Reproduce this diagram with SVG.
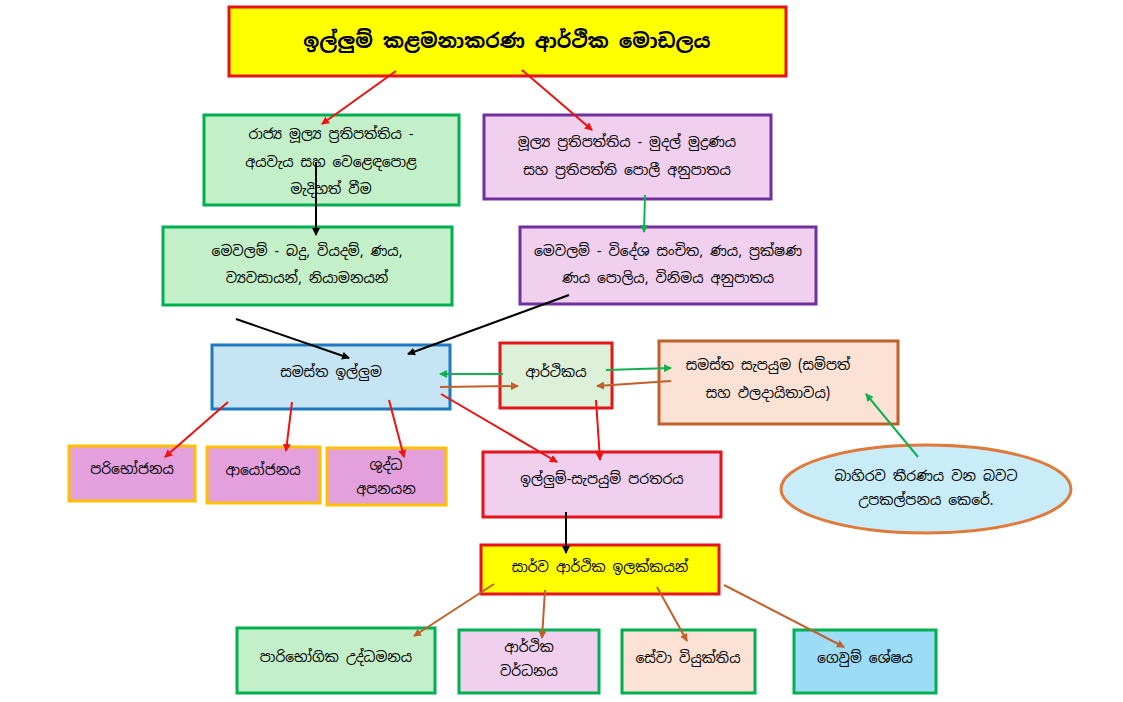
<svg xmlns="http://www.w3.org/2000/svg" width="1123" height="702" viewBox="0 0 1123 702">
<defs>
<style>
text{font-family:"Noto Sans Sinhala","Noto Sans","DejaVu Sans",sans-serif;font-size:14px;text-anchor:middle;fill:#000}
.t{font-size:20px;font-weight:bold}
.g{fill:#c3f0c8;stroke:#00b050;stroke-width:3}
.p{fill:#f0d0ee;stroke:#7030a0;stroke-width:3}
.y{fill:#ffff00;stroke:#e8121b;stroke-width:3}
.m{fill:#e4a0dc;stroke:#ffc000;stroke-width:3}
line{stroke-width:2}
.r{stroke:#ee1111;marker-end:url(#ar)}
.k{stroke:#000;marker-end:url(#ak)}
.gr{stroke:#12b050;marker-end:url(#ag)}
.b{stroke:#c0602a;marker-end:url(#ab)}
</style>
<marker id="ar" markerWidth="8" markerHeight="8" refX="7" refY="4" orient="auto" markerUnits="userSpaceOnUse"><path d="M0,0L8,4L0,8z" fill="#ee1111"/></marker>
<marker id="ak" markerWidth="8" markerHeight="8" refX="7" refY="4" orient="auto" markerUnits="userSpaceOnUse"><path d="M0,0L8,4L0,8z" fill="#000"/></marker>
<marker id="ag" markerWidth="8" markerHeight="8" refX="7" refY="4" orient="auto" markerUnits="userSpaceOnUse"><path d="M0,0L8,4L0,8z" fill="#12b050"/></marker>
<marker id="ab" markerWidth="8" markerHeight="8" refX="7" refY="4" orient="auto" markerUnits="userSpaceOnUse"><path d="M0,0L8,4L0,8z" fill="#c0602a"/></marker>
</defs>
<rect width="1123" height="702" fill="#fff"/>
<g id="title"><rect class="y" x="229" y="7" width="557" height="69"/><text class="t" x="507" y="48">ඉල්ලුම් කළමනාකරණ ආර්ථික මොඩලය</text></g>
<g id="fiscal"><rect class="g" x="204" y="115" width="255" height="90"/><text x="331" y="139">රාජ්‍ය මූල්‍ය ප්‍රතිපත්තිය -</text><text x="331" y="167">අයවැය සහ වෙළෙඳපොළ</text><text x="331" y="194">මැදිහත් වීම</text></g>
<g id="monetary"><rect class="p" x="484" y="115" width="287" height="84"/><text x="627" y="147">මූල්‍ය ප්‍රතිපත්තිය - මුදල් මුද්‍රණය</text><text x="627" y="175">සහ ප්‍රතිපත්ති පොලී අනුපාතය</text></g>
<g id="tools1"><rect class="g" x="163" y="227" width="289" height="78"/><text x="307" y="256">මෙවලම් - බදු, වියදම්, ණය,</text><text x="307" y="283">ව්‍යවසායන්, නියාමනයන්</text></g>
<g id="tools2"><rect class="p" x="520" y="227" width="296" height="77"/><text x="668" y="256">මෙවලම් - විදේශ සංචිත, ණය, ප්‍රක්ෂණ</text><text x="668" y="283">ණය පොලිය, විනිමය අනුපාතය</text></g>
<g id="ad"><rect x="212" y="345" width="238" height="64" fill="#c5e4f4" stroke="#1f78c0" stroke-width="3"/><text x="331" y="377">සමස්ත ඉල්ලුම</text></g>
<g id="economy"><rect x="500" y="343" width="112" height="65" fill="#dcf1d8" stroke="#e8121b" stroke-width="3"/><text x="556" y="377">ආර්ථිකය</text></g>
<g id="as"><rect x="659" y="341" width="239" height="83" fill="#fbe2d5" stroke="#c0602a" stroke-width="3"/><text x="768" y="370">සමස්ත සැපයුම (සම්පත්</text><text x="768" y="398">සහ ඵලදායිතාවය)</text></g>
<g id="consumption"><rect class="m" x="69" y="446" width="126" height="55"/><text x="132" y="474">පරිභෝජනය</text></g>
<g id="investment"><rect class="m" x="207" y="447" width="113" height="56"/><text x="263" y="475">ආයෝජනය</text></g>
<g id="netexports"><rect class="m" x="327" y="448" width="119" height="57"/><text x="386" y="470">ශුද්ධ</text><text x="386" y="494">අපනයන</text></g>
<g id="gap"><rect x="483" y="452" width="238" height="65" fill="#f0d0ee" stroke="#e8121b" stroke-width="3"/><text x="602" y="484">ඉල්ලුම්-සැපයුම් පරතරය</text></g>
<g id="assume"><ellipse cx="926" cy="489" rx="145" ry="44" fill="#c8ecf8" stroke="#e07a3a" stroke-width="3"/><text x="926" y="481">බාහිරව තීරණය වන බවට</text><text x="926" y="505">උපකල්පනය කෙරේ.</text></g>
<g id="macro"><rect class="y" x="481" y="545" width="238" height="49"/><text x="600" y="572">සාර්ව ආර්ථික ඉලක්කයන්</text></g>
<g id="inflation"><rect class="g" x="237" y="628" width="198" height="65"/><text x="336" y="662">පාරිභෝගික උද්ධමනය</text></g>
<g id="growth"><rect class="p" x="459" y="630" width="140" height="63" style="stroke:#00b050"/><text x="529" y="652">ආර්ථික</text><text x="529" y="676">වර්ධනය</text></g>
<g id="unemployment"><rect x="622" y="630" width="133" height="63" fill="#fbe2d5" stroke="#00b050" stroke-width="3"/><text x="688" y="663">සේවා වියුක්තිය</text></g>
<g id="bop"><rect x="794" y="630" width="142" height="63" fill="#9ddcf6" stroke="#00b050" stroke-width="3"/><text x="865" y="663">ගෙවුම් ශේෂය</text></g>
<g id="connectors">
<line class="r" x1="396" y1="71" x2="322" y2="124"/>
<line class="r" x1="522" y1="70" x2="592" y2="130"/>
<line class="k" x1="316" y1="162" x2="316" y2="235"/>
<line class="gr" x1="645" y1="195" x2="644" y2="232"/>
<line class="k" x1="236" y1="319" x2="349" y2="358"/>
<line class="k" x1="569" y1="295" x2="408" y2="354"/>
<line class="gr" x1="503" y1="374" x2="440" y2="374"/>
<line class="b" x1="440" y1="387" x2="518" y2="386"/>
<line class="gr" x1="606" y1="370" x2="671" y2="368"/>
<line class="b" x1="671" y1="381" x2="597" y2="386"/>
<line class="r" x1="228" y1="402" x2="165" y2="457"/>
<line class="r" x1="292" y1="402" x2="286" y2="451"/>
<line class="r" x1="389" y1="400" x2="404" y2="457"/>
<line class="r" x1="441" y1="394" x2="557" y2="462"/>
<line class="r" x1="596" y1="400" x2="600" y2="460"/>
<line class="gr" x1="918" y1="457" x2="866" y2="394"/>
<line class="k" x1="566" y1="512" x2="566" y2="553"/>
<line class="b" x1="494" y1="584" x2="414" y2="636"/>
<line class="b" x1="545" y1="590" x2="542" y2="638"/>
<line class="b" x1="657" y1="587" x2="687" y2="641"/>
<line class="b" x1="724" y1="585" x2="844" y2="647"/>
</g>
</svg>
